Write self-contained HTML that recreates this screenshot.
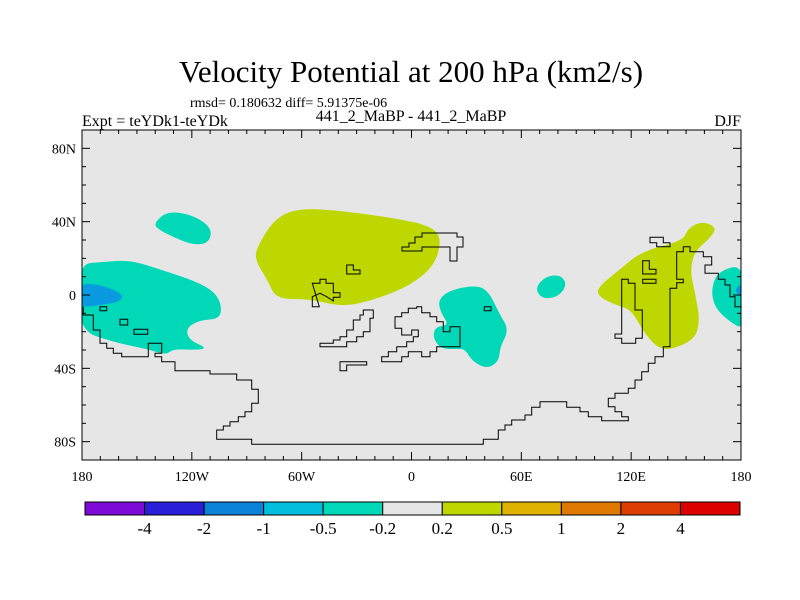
<!DOCTYPE html>
<html><head><meta charset="utf-8"><style>
body{margin:0;background:#fff;}
svg{display:block;font-family:"Liberation Serif",serif;}
</style></head><body>
<svg id="c" width="800" height="600" viewBox="0 0 800 600">
<text x="411" y="82" font-size="31" text-anchor="middle">Velocity Potential at 200 hPa (km2/s)</text>
<text x="190" y="107" font-size="14">rmsd= 0.180632 diff= 5.91375e-06</text>
<text x="82" y="126" font-size="16">Expt = teYDk1-teYDk</text>
<text x="411" y="121" font-size="16" text-anchor="middle">441_2_MaBP - 441_2_MaBP</text>
<text x="741" y="126" font-size="16" text-anchor="end">DJF</text>
<rect x="82" y="130" width="659" height="330" fill="#e6e6e6"/>
<clipPath id="clip"><rect x="82" y="130" width="659" height="330"/></clipPath>
<g id="fills" clip-path="url(#clip)"></g>
<g id="coast" fill="none" stroke="#000" stroke-width="1"></g>
<rect x="82" y="130" width="659" height="330" fill="none" stroke="#000" stroke-width="1"/>
<g id="ticks" stroke="#000" stroke-width="1"></g>
<g id="labels" font-size="14"></g>
<g id="cbar"></g>
</svg>
<script>
const levels=["-4","-2","-1","-0.5","-0.2","0.2","0.5","1","2","4"];
const colors=["#7d0ad7","#2a1ed8","#0a82d8","#00bedc","#00d8b8","#e6e6e6","#bed700","#dfb100","#de7800","#de3c00","#dc0000"];
const lonTicks=[-180,-120,-60,0,60,120,180];
const lonLabels=["180","120W","60W","0","60E","120E","180"];
const latTicks=[80,40,0,-40,-80];
const latLabels=["80N","40N","0","40S","80S"];
const NS="http://www.w3.org/2000/svg";
const X0=82,X1=741,Y0=130,Y1=460;
const X=lon=>X0+(lon+180)*(X1-X0)/360;
const Y=lat=>Y0+(90-lat)*(Y1-Y0)/180;
function mk(tag,attrs,parent){const e=document.createElementNS(NS,tag);for(const k in attrs)e.setAttribute(k,attrs[k]);parent.appendChild(e);return e;}
const fills=document.getElementById('fills');
const blobs=[
 ["teal-anomaly-north-pacific","#00d8b8",[[155,222],[168,211],[193,215],[212,228],[209,243],[193,245],[173,237],[156,228]]],
 ["teal-anomaly-central-pacific","#00d8b8",[[78,264],[103,262],[130,260],[162,270],[195,281],[215,292],[222,307],[219,319],[200,320],[186,328],[189,340],[207,348],[197,350],[173,349],[166,355],[147,349],[113,342],[78,330]]],
 ["blue-anomaly-pacific","#0a9ae0",[[78,283],[103,285],[124,295],[119,302],[100,305],[78,308]]],
 ["yellow-anomaly-north-atlantic","#bed700",[[257,247],[275,218],[300,208],[343,211],[393,218],[428,225],[442,237],[435,265],[411,285],[377,299],[343,307],[310,299],[276,299],[268,281],[255,260]]],
 ["teal-anomaly-africa","#00d8b8",[[438,300],[450,290],[477,285],[489,292],[499,313],[509,330],[500,347],[499,361],[487,369],[472,361],[465,349],[457,349],[441,349],[433,338],[435,327],[449,325],[441,313]]],
 ["teal-anomaly-arabian-sea","#00d8b8",[[535,288],[546,276],[561,275],[567,285],[558,297],[542,299]]],
 ["yellow-anomaly-maritime","#bed700",[[597,288],[618,271],[642,251],[683,241],[688,228],[703,221],[717,228],[709,239],[695,251],[690,270],[695,293],[700,320],[695,339],[673,349],[659,349],[645,334],[636,318],[629,309],[616,305],[599,297]]],
 ["teal-anomaly-west-pacific","#00d8b8",[[711,290],[718,271],[745,264],[745,330],[730,322],[715,308]]],
 ["blue-anomaly-west-pacific","#0a9ae0",[[733,290],[745,282],[745,300]]]
];
function smooth(pts){
 const n=pts.length,mid=(a,b)=>[(a[0]+b[0])/2,(a[1]+b[1])/2];
 let m=mid(pts[n-1],pts[0]);let d="M"+m[0]+","+m[1];
 for(let i=0;i<n;i++){const p=pts[i],q=mid(pts[i],pts[(i+1)%n]);d+=" Q"+p[0]+","+p[1]+" "+q[0]+","+q[1];}
 return d+" Z";
}
blobs.forEach(b=>{
 const p=mk('path',{d:smooth(b[2]),fill:b[1]},fills);
 
 
});
const coast=document.getElementById('coast');
const z2=pts=>pts.map(p=>[60+p[0]/3,200+p[1]/3]);
const z3=pts=>pts.map(p=>[400+p[0]/3,200+p[1]/3]);
const lines=[
 ["coastline-antarctica",false,z2([[70,320],[70,345],[100,345],[100,390],[120,390],[120,430],[140,430],[140,445],[160,445],[160,460],[185,460],[185,470],[265,470],[265,430],[305,430],[305,460],[285,460],[285,470],[305,470],[305,485],[345,485],[345,512],[450,512],[450,522],[530,522],[530,540],[575,540],[575,568],[595,568],[595,610],[575,610],[575,635],[555,635],[555,650],[535,650],[535,665],[510,665],[510,678],[490,678],[490,690],[470,690],[470,718],[575,718],[575,733],[1200,733]]).concat(z3([[250,733],[250,718],[295,718],[295,690],[315,690],[315,675],[335,675],[335,660],[375,660],[375,645],[395,645],[395,622],[420,622],[420,605],[500,605],[500,622],[540,622],[540,635],[565,635],[565,650],[605,650],[605,662],[685,662],[685,650],[665,650],[665,635],[645,635],[645,620],[625,620],[625,595],[645,595],[645,580],[685,580],[685,565],[705,565],[705,540],[725,540],[725,515],[745,515],[745,490],[765,490],[765,470],[790,470],[790,440],[810,440],[810,265],[830,265],[830,248],[850,248],[850,238],[830,238],[830,155],[850,155],[850,140],[870,140],[870,155],[910,155],[910,170],[935,170],[935,195],[915,195],[915,220],[955,220],[955,238],[975,238],[975,255],[990,255],[990,290],[1005,290],[1005,320],[1025,320]]))],
 ["coastline-west-africa",true,z2([[757,250],[780,250],[780,238],[798,238],[798,250],[820,250],[820,278],[840,278],[840,292],[820,292],[820,303],[800,290],[780,280],[757,290],[757,320],[778,320]])],
 ["coastline-island-a",true,z2([[860,195],[880,195],[880,210],[900,210],[900,222],[860,222]])],
 ["coastline-europe",true,[[402,247],[409,247],[409,243],[415,243],[415,237],[422,237],[422,233],[457,233],[457,237],[463,237],[463,247],[457,247],[457,261],[450,261],[450,247],[422,247],[422,251],[402,251]]],
 ["coastline-south-a",true,z2([[780,430],[820,430],[820,420],[840,420],[840,410],[860,410],[860,390],[880,390],[880,360],[900,360],[900,345],[910,345],[910,330],[940,330],[940,355],[930,355],[930,395],[910,395],[910,410],[890,410],[890,425],[860,425],[860,440],[780,440]])],
 ["coastline-south-b",true,z2([[840,485],[920,485],[920,495],[860,495],[860,512],[840,512]])],
 ["coastline-south-c",true,z2([[1005,350],[1025,350],[1025,338],[1045,338],[1045,325],[1070,325],[1070,320],[1085,320],[1085,338],[1110,338],[1110,350],[1130,350],[1130,365],[1150,365],[1150,395],[1170,395],[1170,380],[1200,380],[1200,440],[1150,440],[1130,440],[1130,455],[1110,455],[1110,470],[1085,470],[1085,455],[1045,455],[1045,470],[1025,470],[1025,485],[965,485],[965,470],[985,470],[985,455],[1010,455],[1010,440],[1040,440],[1040,425],[1060,425],[1060,410],[1075,410],[1075,390],[1055,390],[1055,405],[1025,405],[1025,385],[1005,385]])],
 ["coastline-island-b",true,z2([[120,320],[140,320],[140,332],[120,332]])],
 ["coastline-island-c",true,z2([[180,358],[203,358],[203,375],[180,375]])],
 ["coastline-island-d",true,z2([[222,388],[263,388],[263,403],[222,403]])],
 ["coastline-island-e",true,z3([[253,320],[273,320],[273,332],[253,332]])],
 ["coastline-india",true,z3([[665,238],[685,238],[685,250],[705,250],[705,330],[727,330],[727,415],[707,415],[707,430],[665,430],[665,415],[645,415],[645,402],[665,402]])],
 ["coastline-island-f",true,z3([[728,182],[748,182],[748,208],[768,208],[768,222],[728,222]])],
 ["coastline-island-g",true,z3([[728,238],[768,238],[768,250],[728,250]])],
 ["coastline-island-h",true,z3([[750,112],[790,112],[790,128],[810,128],[810,140],[770,140],[770,128],[750,128]])]
];
lines.forEach(l=>{
 let d="M"+l[2].map(p=>p[0].toFixed(1)+","+p[1].toFixed(1)).join(" L")+(l[1]?" Z":"");
 const p=mk('path',{d:d},coast);
 
 
});
const ticks=document.getElementById('ticks');
for(let lon=-170;lon<180;lon+=10){const L=(lon%60===0)?8:4,x=X(lon);
 mk('line',{x1:x,y1:Y1,x2:x,y2:Y1-L},ticks);mk('line',{x1:x,y1:Y0,x2:x,y2:Y0+L},ticks);}
for(let lat=-80;lat<=80;lat+=10){const L=(lat%40===0)?8:4,y=Y(lat);
 mk('line',{x1:X0,y1:y,x2:X0+L,y2:y},ticks);mk('line',{x1:X1,y1:y,x2:X1-L,y2:y},ticks);}
const lab=document.getElementById('labels');
lonTicks.forEach((v,i)=>{const t=mk('text',{x:X(v),y:481,'text-anchor':'middle'},lab);t.textContent=lonLabels[i];
 
 });
latTicks.forEach((v,i)=>{const t=mk('text',{x:76,y:Y(v)+5,'text-anchor':'end'},lab);t.textContent=latLabels[i];
 
 });
const cb=document.getElementById('cbar');
const CB0=85,CB1=740,w=(CB1-CB0)/colors.length;
colors.forEach((c,i)=>{const r=mk('rect',{x:CB0+i*w,y:502,width:w,height:13,fill:c,stroke:'#000','stroke-width':1},cb);
 
 });
levels.forEach((v,i)=>{const t=mk('text',{x:CB0+(i+1)*w,y:534,'text-anchor':'middle','font-size':17},cb);t.textContent=v;
 
 });
</script>
</body></html>
